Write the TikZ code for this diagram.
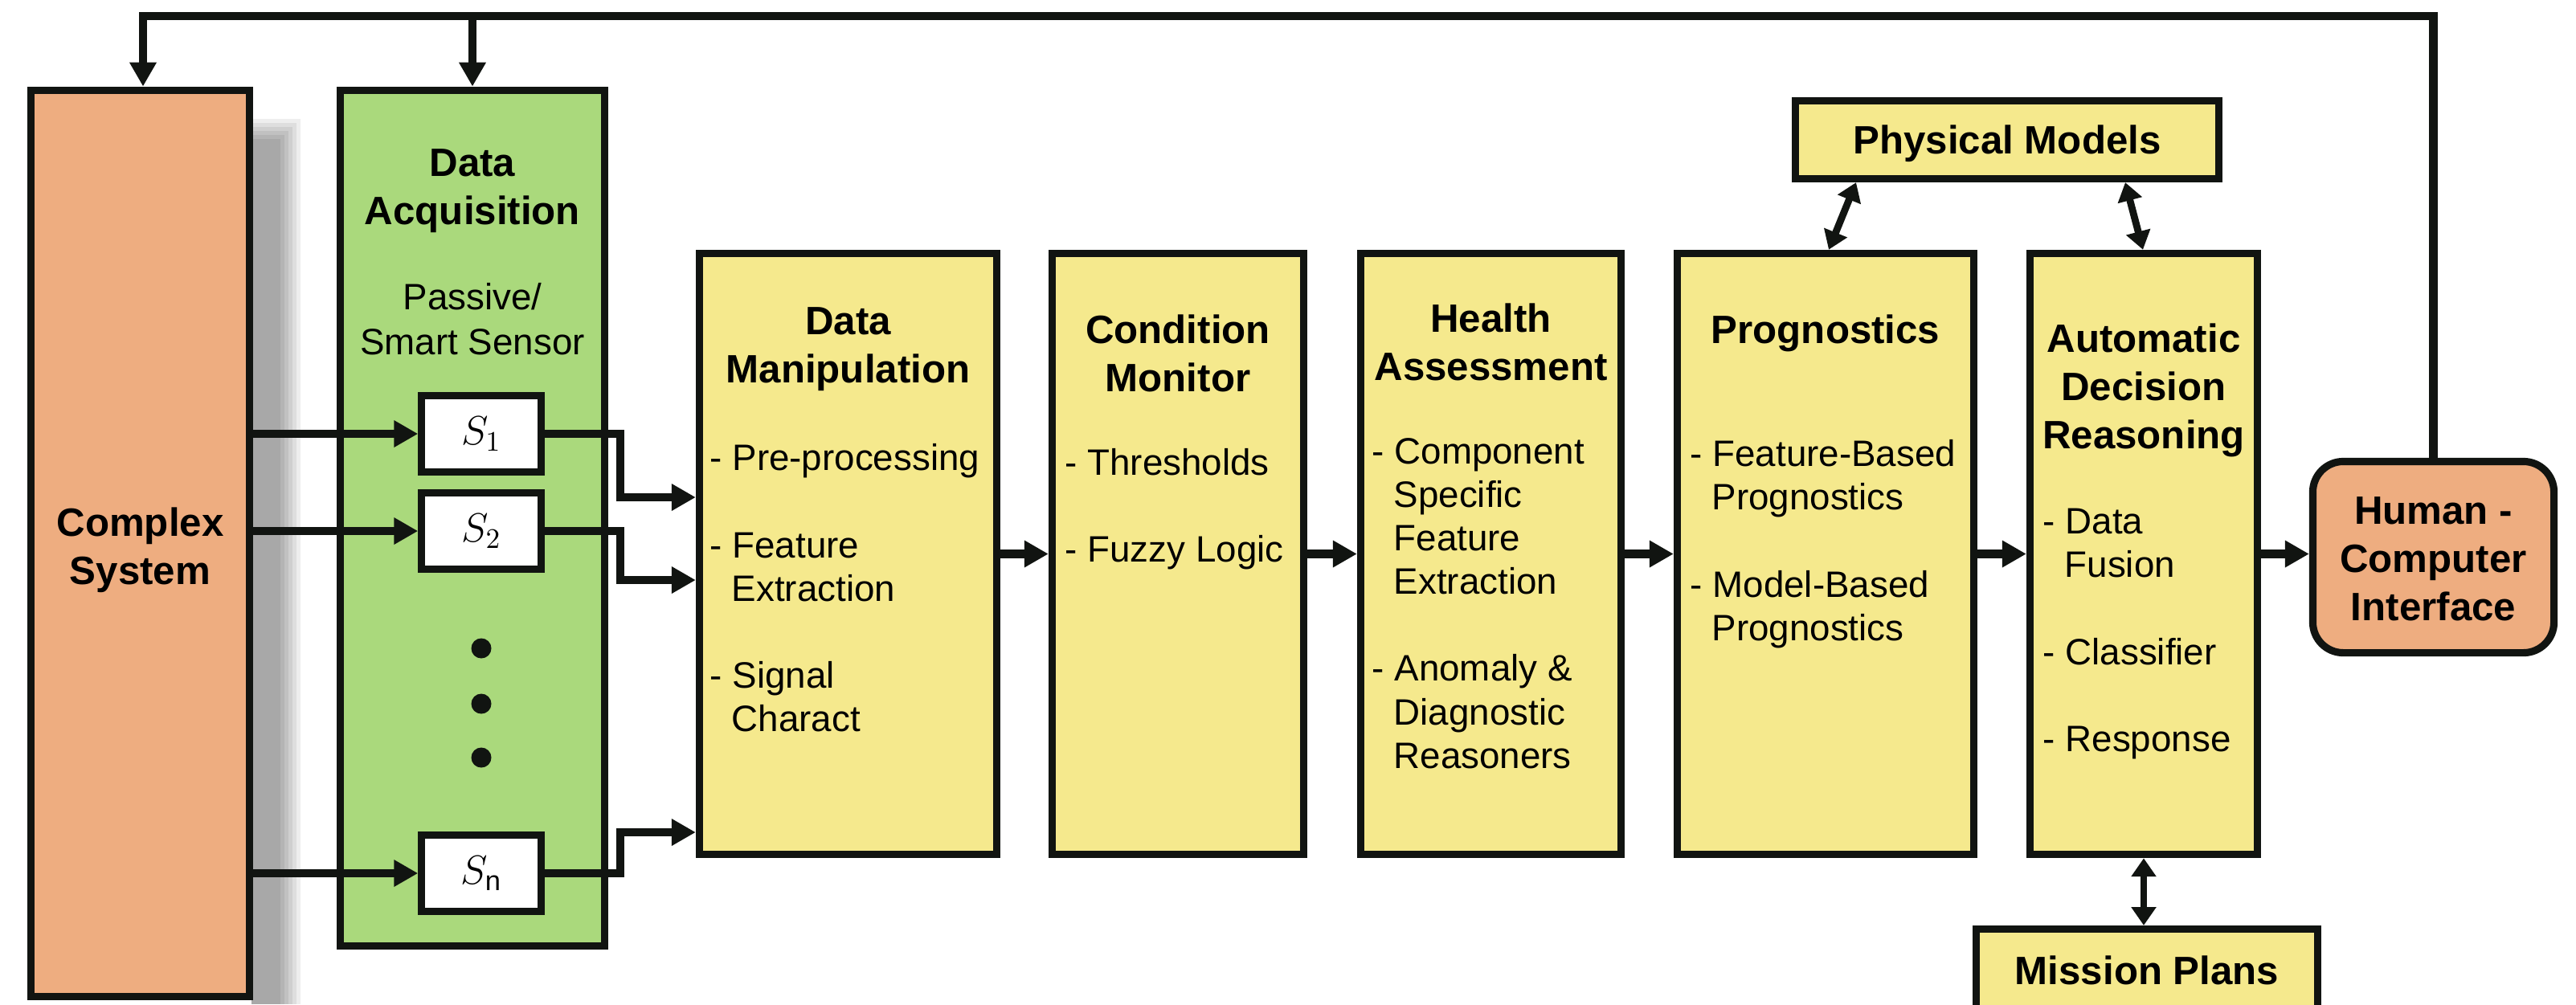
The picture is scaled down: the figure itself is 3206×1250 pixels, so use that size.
\documentclass[tikz,border=0pt]{standalone}
\usepackage{fontspec}
\setmainfont{Liberation Sans}
\usetikzlibrary{arrows.meta,calc}
\definecolor{bord}{RGB}{17,20,17}
\definecolor{org}{RGB}{238,173,128}
\definecolor{grn}{RGB}{170,217,124}
\definecolor{yel}{RGB}{245,233,141}
\tikzset{
  box/.style={draw=bord, line width=2.6pt, inner sep=0pt},
  ybox/.style={box, fill=yel, minimum height=7.48cm},
  sbox/.style={box, fill=white, line width=2.4pt, minimum width=1.49cm, minimum height=0.95cm, font=\fontsize{14pt}{16pt}\selectfont},
  dotnode/.style={circle, fill=bord, inner sep=0pt, minimum size=0.25cm},
  ttl/.style={font=\bfseries\fontsize{14pt}{17pt}\selectfont, align=center, inner sep=0pt},
  sub/.style={font=\fontsize{13pt}{15.8pt}\selectfont, align=center, inner sep=0pt},
  lst/.style={font=\fontsize{13pt}{15.4pt}\selectfont, align=left, inner sep=0pt, anchor=west},
  arr/.style={draw=bord, line width=3.1pt, -{Triangle[length=8.5pt,width=9pt]}},
  darr/.style={draw=bord, line width=2.5pt, {Triangle[length=6.5pt,width=8.5pt]}-{Triangle[length=6.5pt,width=8.5pt]}},
}
\newcommand{\hang}{\hspace*{0.27cm}}
\begin{document}
\begin{tikzpicture}[x=0.01cm,y=-0.01cm]
\useasboundingbox (0,0) rectangle (3206,1250);
\clip (0,0) rectangle (3206,1250);
% shadow of complex system
\foreach \i in {0,...,5} \fill[black, opacity=0.065] (313,148+5*\i) rectangle (374-5*\i,1250);
% main boxes
\node[box, fill=org, minimum width=2.72cm, minimum height=11.28cm] (cs) at (174.5,676.5) {};
\node[box, fill=grn, minimum width=3.29cm, minimum height=10.65cm] (da) at (588,645) {};
\node[sbox] (s1) at (599,540) {$S_1$};
\node[sbox] (s2) at (599,661) {$S_2$};
\node[sbox] (sn) at (599,1087) {$S_\mathrm{n}$};
\node[dotnode] (d1) at (599,807) {};
\node[dotnode] (d2) at (599,876) {};
\node[dotnode] (d3) at (599,943) {};
\node[ybox, minimum width=3.70cm] (dm) at (1055.5,689.5) {};
\node[ybox, minimum width=3.13cm] (cm) at (1466,689.5) {};
\node[ybox, minimum width=3.24cm] (ha) at (1855.5,689.5) {};
\node[ybox, minimum width=3.69cm] (prog) at (2272,689.5) {};
\node[ybox, minimum width=2.83cm] (adr) at (2668,689.5) {};
\node[box, fill=yel, minimum width=5.27cm, minimum height=0.97cm] (pm) at (2498,174) {};
\node[box, fill=yel, minimum width=4.25cm, minimum height=1.03cm] (mp) at (2672,1208) {};
\node[box, fill=org, rounded corners=0.38cm, minimum width=3.00cm, minimum height=2.38cm] (hci) at (3028.5,693.5) {};
% texts
\node[ttl] (cs-t) at (174.5,685) {Complex\\System};
\node[ttl] (da-t) at (588,238) {Data\\Acquisition};
\node[sub] (da-s) at (588,397) {Passive/\\Smart Sensor};
\node[ttl] (dm-t) at (1055.5,435) {Data\\Manipulation};
\node[lst] (dm-l) at (883,732) {- Pre-processing\\[15.4pt]- Feature\\\hang Extraction\\[15.4pt]- Signal\\\hang Charact};
\node[ttl] (cm-t) at (1466,440) {Condition\\Monitor};
\node[lst] (cm-l) at (1325,634) {- Thresholds\\[15.4pt]- Fuzzy Logic};
\node[ttl] (ha-t) at (1855.5,426) {Health\\Assessment};
\node[lst] (ha-l) at (1707,751) {- Component\\\hang Specific\\\hang Feature\\\hang Extraction\\[15.4pt]- Anomaly \&\\\hang Diagnostic\\\hang Reasoners};
\node[ttl] (prog-t) at (2272,415) {Prognostics};
\node[lst] (prog-l) at (2103,677) {- Feature-Based\\\hang Prognostics\\[15.4pt]- Model-Based\\\hang Prognostics};
\node[ttl] (adr-t) at (2668,486) {Automatic\\Decision\\Reasoning};
\node[lst] (adr-l) at (2542,789) {- Data\\\hang Fusion\\[15.4pt]- Classifier\\[15.4pt]- Response};
\node[ttl] (pm-t) at (2498,179) {Physical Models};
\node[ttl] (mp-t) at (2672,1208) {Mission Plans};
\node[ttl] (hci-t) at (3028.5,696) {Human -\\Computer\\Interface};
% feedback loop
\coordinate (fbR) at (3028.5,20);
\coordinate (fbL) at (178,20);
\draw[arr] (hci.north) -- (fbR) -- (fbL) -- (fbL |- cs.north);
\draw[arr] (da.north |- fbL) -- (da.north);
% sensors
\draw[arr] (cs.east |- s1.west) -- (s1.west);
\draw[arr] (cs.east |- s2.west) -- (s2.west);
\draw[arr] (cs.east |- sn.west) -- (sn.west);
\coordinate (j1) at (772,619);
\coordinate (j2) at (772,722);
\coordinate (jn) at (772,1036);
\draw[arr] (s1.east) -| (j1) -- (dm.west |- j1);
\draw[arr] (s2.east) -| (j2) -- (dm.west |- j2);
\draw[arr] (sn.east) -| (jn) -- (dm.west |- jn);
% chain
\draw[arr] (dm.east) -- (cm.west);
\draw[arr] (cm.east) -- (ha.west);
\draw[arr] (ha.east) -- (prog.west);
\draw[arr] (prog.east) -- (adr.west);
\draw[arr] (adr.east) -- (hci.west |- adr.east);
% double arrows
\draw[darr] ($(prog.north)+(4,0)$) -- ($(pm.south)+(-188,0)$);
\draw[darr] ($(adr.north)+(-1,0)$) -- ($(pm.south)+(147,0)$);
\draw[darr] (adr.south) -- (adr.south |- mp.north);
\end{tikzpicture}
\end{document}
